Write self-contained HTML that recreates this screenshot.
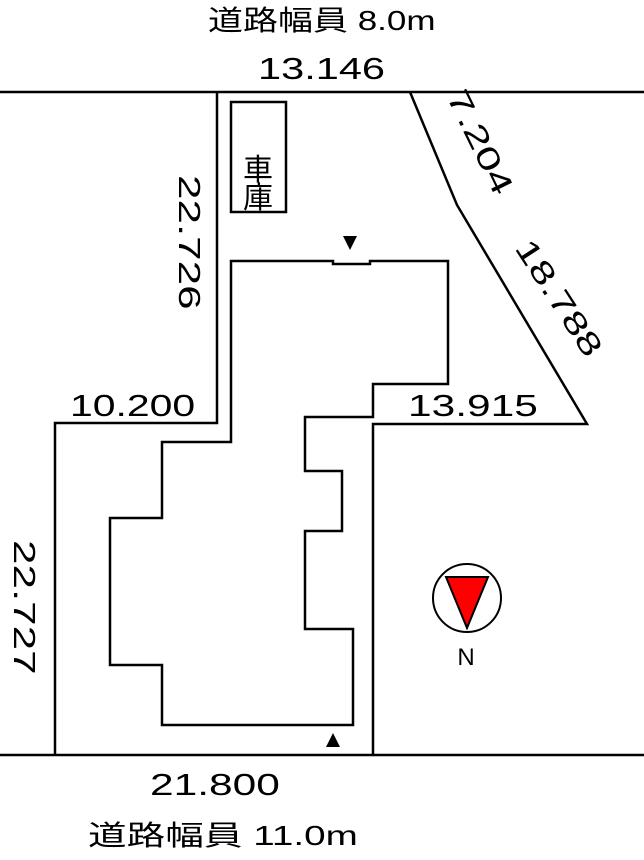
<!DOCTYPE html>
<html><head><meta charset="utf-8"><style>
html,body{margin:0;padding:0;background:#fff}
svg{display:block}
text{font-family:"Liberation Sans","Noto Sans CJK JP",sans-serif;fill:#000}
</style></head><body>
<svg width="644" height="860" viewBox="0 0 644 860" xmlns="http://www.w3.org/2000/svg">
<g fill="none" stroke="#000" stroke-width="2.5">
<line x1="0" y1="92" x2="644" y2="92"/>
<line x1="0" y1="755" x2="644" y2="755"/>
<polyline points="55,755 55,423 217,423 217,92"/>
<polyline points="373,755 373,424 587,424 457,205 410,92"/>
<rect x="231" y="102" width="55" height="110"/>
<polygon points="231,261 333,261 333,264 370,264 370,261 448,261 448,384 373,384 373,417 305,417 305,471 342,471 342,531 305,531 305,629 353,629 353,725 162,725 162,665 110,665 110,518 162,518 162,442 231,442"/>
</g>
<polygon points="343,236 357,236 350,250" fill="#000"/>
<polygon points="326,747 340,747 333,733" fill="#000"/>
<circle cx="467" cy="598" r="34" fill="#fff" stroke="#000" stroke-width="2"/>
<polygon points="446,577 488,577 467,628" fill="#f00" stroke="#000" stroke-width="2"/>
<text x="466" y="665" font-size="24" text-anchor="middle">N</text>
<text x="258" y="180" font-size="30" text-anchor="middle">車</text>
<text x="258" y="208" font-size="30" text-anchor="middle">庫</text>
<text transform="translate(208,30) scale(1.25,1)" font-size="28">道路幅員 8.0m</text>
<text transform="translate(258,79) scale(1.34,1)" font-size="31">13.146</text>
<text transform="translate(70,416) scale(1.32,1)" font-size="31">10.200</text>
<text transform="translate(408,416) scale(1.37,1)" font-size="31">13.915</text>
<text transform="translate(150,795) scale(1.37,1)" font-size="31">21.800</text>
<text transform="translate(88,845) scale(1.38,1)" font-size="28">道路幅員 11.0m</text>
<text transform="translate(179,175) rotate(90) scale(1.42,1)" font-size="31">22.726</text>
<text transform="translate(14,540) rotate(90) scale(1.42,1)" font-size="31">22.727</text>
<text transform="translate(446,96) rotate(64) scale(1.45,1)" font-size="31">7.204</text>
<text transform="translate(514,248) rotate(57) scale(1.4,1)" font-size="31">18.788</text>
</svg>
</body></html>
